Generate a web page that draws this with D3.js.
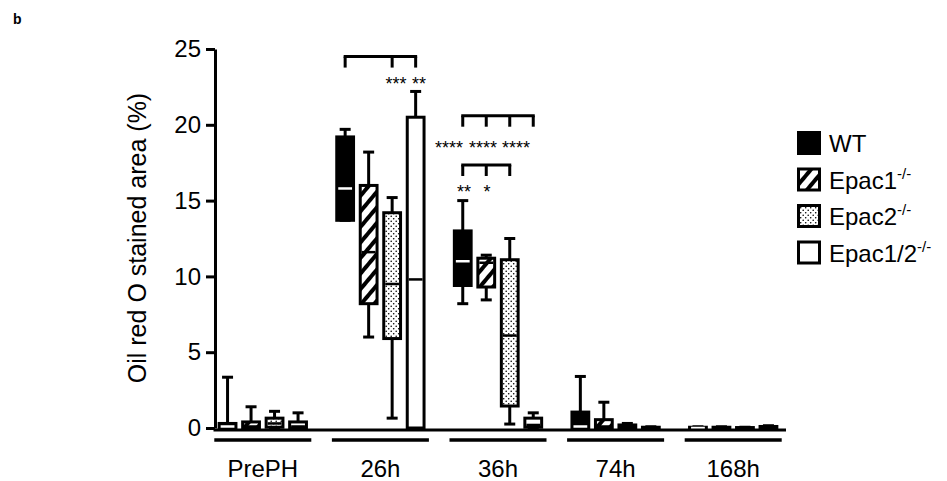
<!DOCTYPE html>
<meta charset="utf-8">
<style>
body { margin: 0; background: #fff; }
svg { font-family: "Liberation Sans", Arial, sans-serif; }
.axis path, .axis line { stroke: #000; stroke-width: 3; }
.axis text { font-size: 24px; fill: #000; }
</style>
<svg width="947" height="481"></svg>
<script src="https://d3js.org/d3.v7.min.js"></script>
<script>
// groups (time after PH) and genotypes
var groups = ['PrePH', '26h', '36h', '74h', '168h'];
var genotypes = ['WT', 'Epac1', 'Epac2', 'Epac1/2'];
var yTicks = [0, 5, 10, 15, 20, 25];

// box stats per genotype, one row per group: [min, q1, median, q3, max]
var wtStats = [
  [0, 0, 0.1, 0.3, 3.35],
  [13.7, 13.7, 15.8, 19.2, 19.7],
  [8.2, 9.4, 11.0, 13.0, 15.0],
  [0, 0, 0.1, 1.05, 3.4],
  [0, 0, 0, 0.05, 0.08]
];
var epac1Stats = [
  [0, 0, 0.1, 0.4, 1.4],
  [6.0, 8.2, 11.6, 16.0, 18.2],
  [8.45, 9.3, 10.9, 11.2, 11.4],
  [0, 0, 0.1, 0.55, 1.7],
  [0, 0, 0, 0.05, 0.08]
];
var epac2Stats = [
  [0, 0.05, 0.3, 0.65, 1.1],
  [0.65, 5.9, 9.5, 14.2, 15.2],
  [0.26, 1.45, 6.1, 11.1, 12.5],
  [0, 0, 0.05, 0.2, 0.3],
  [0, 0, 0, 0.03, 0.05]
];
var epac12Stats = [
  [0, 0, 0.1, 0.4, 1.0],
  [0, 0, 9.8, 20.5, 22.2],
  [0, 0.05, 0.2, 0.65, 1.0],
  [0, 0, 0, 0.05, 0.08],
  [0, 0, 0.05, 0.1, 0.15]
];

// significance brackets (genotype indices) and star labels
var brackets = [
  { group: '26h', level: 24.5, ticks: [0, 2, 3] },
  { group: '36h', level: 20.6, ticks: [0, 1, 2, 3] },
  { group: '36h', level: 17.35, ticks: [0, 1, 2] }
];
var stars = [
  { group: '26h', pos: 2.16, value: 22.3, text: '***' },
  { group: '26h', pos: 3.14, value: 22.3, text: '**' },
  { group: '36h', pos: -0.58, value: 18.1, text: '****' },
  { group: '36h', pos: 0.86, value: 18.1, text: '****' },
  { group: '36h', pos: 2.27, value: 18.1, text: '****' },
  { group: '36h', pos: 0.05, value: 15.2, text: '**' },
  { group: '36h', pos: 1.03, value: 15.2, text: '*' }
];

var allStats = [wtStats, epac1Stats, epac2Stats, epac12Stats];
var fills = ['#000', 'url(#hatch)', 'url(#dots)', '#fff'];
var medianColor = ['#fff', '#000', '#000', '#000'];

var svg = d3.select('svg');

// patterns
var defs = svg.append('defs');
var hatch = defs.append('pattern')
  .attr('id', 'hatch')
  .attr('patternUnits', 'userSpaceOnUse')
  .attr('width', 10).attr('height', 10)
  .attr('patternTransform', 'rotate(40)');
hatch.append('rect').attr('width', 10).attr('height', 10).attr('fill', '#fff');
hatch.append('line').attr('x1', 2).attr('y1', 0).attr('x2', 2).attr('y2', 10)
  .attr('stroke', '#000').attr('stroke-width', 4);
var dots = defs.append('pattern')
  .attr('id', 'dots')
  .attr('patternUnits', 'userSpaceOnUse')
  .attr('width', 5).attr('height', 5);
dots.append('rect').attr('width', 5).attr('height', 5).attr('fill', '#fff');
dots.append('circle').attr('cx', 1.2).attr('cy', 1.2).attr('r', 0.8).attr('fill', '#000');
dots.append('circle').attr('cx', 3.7).attr('cy', 3.7).attr('r', 0.8).attr('fill', '#000');

var y = d3.scaleLinear().domain([0, 25]).range([428, 49]);
var x0 = d3.scaleBand().domain(groups).range([204, 792])
  .paddingInner(0.175).paddingOuter(0.0875);
var bw = x0.bandwidth();
var x1 = d3.scaleBand().domain(genotypes).range([bw / 2 - 47, bw / 2 + 47])
  .paddingInner(0.2).paddingOuter(0.1);

function subX(group, pos) {
  return x0(group) + x1(genotypes[0]) + x1.bandwidth() / 2 + pos * x1.step();
}

// label
svg.append('text').attr('x', 13).attr('y', 24)
  .attr('font-size', 14).attr('font-weight', 'bold').text('b');

// y axis
var yAxis = svg.append('g').attr('class', 'axis')
  .attr('transform', 'translate(215,0)')
  .call(d3.axisLeft(y).tickValues(yTicks).tickSize(9).tickSizeOuter(0).tickPadding(5));

svg.append('text')
  .attr('transform', 'translate(146,238) rotate(-90)')
  .attr('text-anchor', 'middle')
  .attr('font-size', 25)
  .text('Oil red O stained area (%)');

// boxes
groups.forEach(function (g, gi) {
  genotypes.forEach(function (k, ki) {
    var s = allStats[ki][gi];
    var cx = subX(g, ki);
    var w = x1.bandwidth() - 2;
    var cap = 11;
    var box = svg.append('g');
    box.append('line')
      .attr('x1', cx).attr('x2', cx).attr('y1', y(s[4])).attr('y2', y(s[0]))
      .attr('stroke', '#000').attr('stroke-width', 3);
    [s[0], s[4]].forEach(function (v) {
      box.append('line')
        .attr('x1', cx - cap / 2).attr('x2', cx + cap / 2)
        .attr('y1', y(v)).attr('y2', y(v))
        .attr('stroke', '#000').attr('stroke-width', 3);
    });
    box.append('rect')
      .attr('x', cx - w / 2).attr('width', w)
      .attr('y', y(s[3])).attr('height', Math.max(0, y(s[1]) - y(s[3])))
      .attr('fill', fills[ki]).attr('stroke', '#000').attr('stroke-width', 3);
    box.append('line')
      .attr('x1', cx - w / 2 + 1.5).attr('x2', cx + w / 2 - 1.5)
      .attr('y1', y(s[2])).attr('y2', y(s[2]))
      .attr('stroke', medianColor[ki]).attr('stroke-width', 2.5);
  });
});

// x axis line
svg.append('line')
  .attr('x1', 213.5).attr('x2', 786).attr('y1', 430).attr('y2', 430)
  .attr('stroke', '#000').attr('stroke-width', 3);

// group underlines and labels
svg.selectAll('.under').data(groups).enter().append('line')
  .attr('x1', function (d) { return x0(d); })
  .attr('x2', function (d) { return x0(d) + bw; })
  .attr('y1', 440).attr('y2', 440)
  .attr('stroke', '#000').attr('stroke-width', 3.5);
svg.selectAll('.glabel').data(groups).enter().append('text')
  .attr('x', function (d) { return x0(d) + bw / 2; })
  .attr('y', 477)
  .attr('text-anchor', 'middle')
  .attr('font-size', 24)
  .text(function (d) { return d; });

// brackets
brackets.forEach(function (b) {
  var yl = y(b.level);
  var xs = b.ticks.map(function (t) { return subX(b.group, t); });
  svg.append('line')
    .attr('x1', xs[0] - 1.5).attr('x2', xs[xs.length - 1] + 1.5)
    .attr('y1', yl).attr('y2', yl)
    .attr('stroke', '#000').attr('stroke-width', 3);
  xs.forEach(function (xx) {
    svg.append('line')
      .attr('x1', xx).attr('x2', xx).attr('y1', yl).attr('y2', yl + 11)
      .attr('stroke', '#000').attr('stroke-width', 3);
  });
});
svg.selectAll('.star').data(stars).enter().append('text')
  .attr('x', function (d) { return subX(d.group, d.pos); })
  .attr('y', function (d) { return y(d.value); })
  .attr('text-anchor', 'middle')
  .attr('font-size', 18)
  .text(function (d) { return d.text; });

// legend
var legendLabels = ['WT', 'Epac1', 'Epac2', 'Epac1/2'];
var legend = svg.append('g').attr('transform', 'translate(797,131)');
legendLabels.forEach(function (lab, i) {
  var row = legend.append('g').attr('transform', 'translate(0,' + i * 36.5 + ')');
  row.append('rect').attr('x', 1.5).attr('y', 1.5).attr('width', 21).attr('height', 21)
    .attr('fill', fills[i]).attr('stroke', '#000').attr('stroke-width', 3);
  var t = row.append('text').attr('x', 32).attr('y', 21).attr('font-size', 24).text(lab);
  if (i > 0) {
    t.append('tspan').attr('dy', -10).attr('font-size', 15).text('-/-');
  }
});
</script>
